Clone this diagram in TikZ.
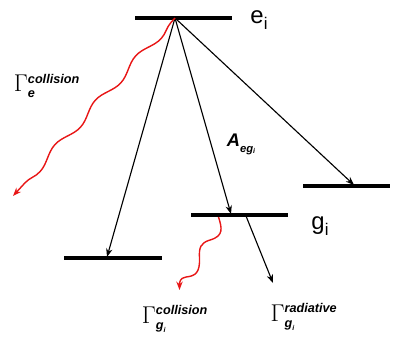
\documentclass[tikz,border=0pt]{standalone}
\usepackage{fontspec}
\setsansfont{Liberation Sans}
\usetikzlibrary{arrows.meta, decorations.pathmorphing, positioning}
\definecolor{wavered}{RGB}{232, 22, 22}
\newcommand{\slbl}[1]{\mbox{\fontsize{9}{10}\selectfont\sffamily\bfseries\itshape #1}}
\newcommand{\gsub}{\mbox{\fontsize{9}{10}\selectfont\sffamily\bfseries\itshape g\raisebox{-0.35ex}{\fontsize{5}{6}\selectfont i}}}

\begin{document}
\begin{tikzpicture}[x=0.025cm, y=-0.025cm, >={Stealth[length=6pt, width=4.5pt]}]
    \useasboundingbox (0,0) rectangle (393,345);
    \tikzset{
        level/.style={fill=black, inner sep=0pt, minimum height=2.8pt},
        decay/.style={->, line width=0.8pt},
        wave/.style={->, wavered, line width=1pt},
        state/.style={font=\fontsize{17}{20}\selectfont\sffamily, inner sep=0pt}
    }

    % Levels
    \node[level, minimum width=2.43cm] at (183.5, 18) (etop) {};
    \node[level, minimum width=2.18cm] at (346.5, 186) (gright) {};
    \node[level, minimum width=2.43cm] at (239.5, 215) (gmid) {};
    \node[level, minimum width=2.45cm] at (113, 258) (gleft) {};

    % State labels
    \node[state] at (259, 20) (elabel) {e\raisebox{-0.45ex}{\fontsize{12}{14}\selectfont i}};
    \node[state] at (320, 226) (glabel) {g\raisebox{-0.45ex}{\fontsize{12}{14}\selectfont i}};

    % End points
    \coordinate (eorig) at (175, 18);
    \coordinate (tleft) at (107, 257);
    \coordinate (tmid) at (231, 214);
    \coordinate (tright) at (354, 185);
    \coordinate (gorig) at (246, 216);
    \coordinate (grad) at (273, 283);
    \coordinate (gwave) at (218.5, 217);
    \coordinate (gcoll) at (179.5, 290);
    \coordinate (ecoll) at (13, 196);

    % Radiative decays
    \draw[decay] (eorig) -- (tleft);
    \draw[decay] (eorig) -- (tmid);
    \draw[decay] (eorig) -- (tright);
    \draw[decay] (gorig) -- (grad);

    % Collisional decays
    \draw[wave, decorate, decoration={snake, amplitude=0.09cm, segment length=1.5cm, pre length=4pt, post length=8pt}] (eorig) -- (ecoll);
    \draw[wave] (gwave) .. controls (222, 228) and (224, 236) .. (210, 240)
        .. controls (200, 243) and (199, 248) .. (199.5, 258)
        .. controls (200, 272) and (196, 276) .. (186, 277)
        .. controls (180, 278) and (179.5, 282) .. (gcoll);

    % Rate labels
    \node[font=\fontsize{13}{15}\selectfont\sffamily\bfseries\itshape] at (241, 144) (arate)
        {A\raisebox{-0.6ex}{\fontsize{8}{9}\selectfont eg\raisebox{-0.3ex}{\fontsize{5}{6}\selectfont i}}};
    \node[font=\fontsize{19}{22}\selectfont] at (47, 86) (ecollabel) {$\Gamma^{\slbl{collision}}_{\slbl{e}}$};
    \node[font=\fontsize{19}{22}\selectfont] at (175, 319) (gcollabel) {$\Gamma^{\slbl{collision}}_{\gsub}$};
    \node[font=\fontsize{19}{22}\selectfont] at (304, 317) (gradlabel) {$\Gamma^{\slbl{radiative}}_{\gsub}$};
\end{tikzpicture}
\end{document}
